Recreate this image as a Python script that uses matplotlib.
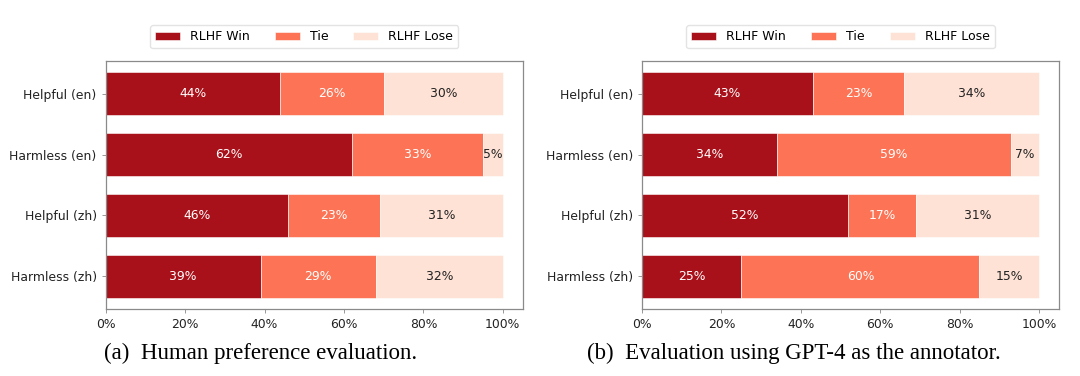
import matplotlib
matplotlib.use("Agg")
import matplotlib.pyplot as plt
from matplotlib.ticker import PercentFormatter

categories = ["Helpful (en)", "Harmless (en)", "Helpful (zh)", "Harmless (zh)"]
series_names = ["RLHF Win", "Tie", "RLHF Lose"]

# (a) human preference
human_win = [44, 62, 46, 39]
human_tie = [26, 33, 23, 29]
human_lose = [30, 5, 31, 32]

# (b) GPT-4 as annotator
gpt4_win = [43, 34, 52, 25]
gpt4_tie = [23, 59, 17, 60]
gpt4_lose = [34, 7, 31, 15]

captions = ["(a)  Human preference evaluation.",
            "(b)  Evaluation using GPT-4 as the annotator."]

colors = ["#a8111a", "#fc7455", "#fee2d5"]
label_colors = ["white", "white", "#222222"]
fs = 8.9

fig = plt.figure(figsize=(10.8, 3.76), dpi=100)
ax_a = fig.add_axes([0.0979, 0.178, 0.386, 0.660])
ax_b = fig.add_axes([0.5944, 0.178, 0.386, 0.660])

panels = [(ax_a, [human_win, human_tie, human_lose]),
          (ax_b, [gpt4_win, gpt4_tie, gpt4_lose])]

for ax, data in panels:
    left = [0] * len(categories)
    for name, vals, c, tc in zip(series_names, data, colors, label_colors):
        bars = ax.barh(categories, vals, left=left, height=0.7, color=c,
                       label=name, edgecolor="white", linewidth=0.4)
        ax.bar_label(bars, labels=[f"{v}%" for v in vals], label_type="center",
                     color=tc, fontsize=fs)
        left = [l + v for l, v in zip(left, vals)]
    ax.invert_yaxis()
    ax.set_xticks([0, 20, 40, 60, 80, 100])
    ax.xaxis.set_major_formatter(PercentFormatter(decimals=0))
    ax.tick_params(labelsize=fs, colors="#222222", length=3, width=0.6)
    ax.tick_params(axis="both", color="#888888")
    for sp in ax.spines.values():
        sp.set_color("#8a8a8a")
        sp.set_linewidth(0.9)
    ax.legend(loc="center", bbox_to_anchor=(0.476, 1.097), ncol=3,
              fontsize=9.0, frameon=True, edgecolor="#dddddd")

fig.text(0.241, 0.061, captions[0], ha="center", va="center",
         family="Liberation Serif", fontsize=16.5)
fig.text(0.735, 0.061, captions[1], ha="center", va="center",
         family="Liberation Serif", fontsize=16.5)

fig.savefig("out.png", dpi=100)
